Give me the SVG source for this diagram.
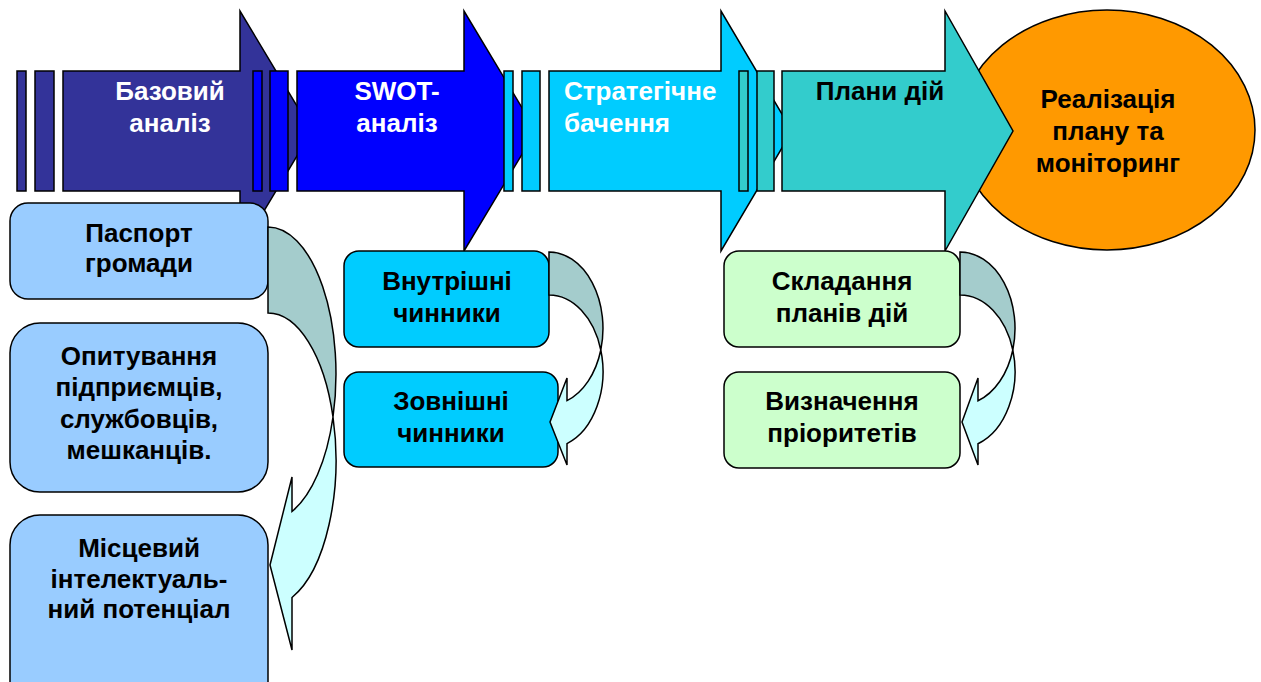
<svg xmlns="http://www.w3.org/2000/svg" width="1261" height="682" viewBox="0 0 1261 682">
<style>
  .s { stroke: #000; stroke-width: 1.5; stroke-linejoin: miter; }
  .t { font-family: "Liberation Sans", Arial, sans-serif; font-weight: bold; font-size: 26px; }
  .w { fill: #fff; }
  .k { fill: #000; }
  .c { text-anchor: middle; }
  .a1 { fill: #333399; }
  .a2 { fill: #0000FF; }
  .a3 { fill: #00CCFF; }
  .a4 { fill: #33CCCC; }
  .back { fill: #A4CCCC; }
  .front { fill: #CCFFFF; }
</style>
<rect width="1261" height="682" fill="#fff"/>

<g id="node-realizatsiia">
  <ellipse class="s" cx="1107" cy="130" rx="148" ry="120" fill="#FF9900"/>
  <text class="t k c" x="1108" y="108">Реалізація</text>
  <text class="t k c" x="1108" y="140">плану та</text>
  <text class="t k c" x="1108" y="172">моніторинг</text>
</g>

<g id="node-bazovyi">
  <rect class="s a1" x="17" y="71" width="9" height="120"/>
  <rect class="s a1" x="35" y="71" width="19" height="120"/>
  <polygon class="s a1" points="63,71 240,71 240,11 312,131 240,251 240,191 63,191"/>
  <text class="t w c" x="170" y="100">Базовий</text>
  <text class="t w c" x="170" y="132">аналіз</text>
</g>

<g id="node-swot">
  <rect class="s a2" x="253" y="71" width="9" height="120"/>
  <rect class="s a2" x="270" y="71" width="18" height="120"/>
  <polygon class="s a2" points="297,71 464,71 464,11 536,131 464,251 464,191 297,191"/>
  <text class="t w c" x="397" y="100">SWOT-</text>
  <text class="t w c" x="397" y="132">аналіз</text>
</g>

<g id="node-stratehichne">
  <rect class="s a3" x="504" y="71" width="9" height="120"/>
  <rect class="s a3" x="522" y="71" width="18" height="120"/>
  <polygon class="s a3" points="549,71 721,71 721,11 792,131 721,251 721,191 549,191"/>
  <text class="t w" x="564" y="100">Стратегічне</text>
  <text class="t w" x="564" y="132">бачення</text>
</g>

<g id="node-plany">
  <rect class="s a4" x="739" y="71" width="9" height="120"/>
  <rect class="s a4" x="757" y="71" width="17" height="120"/>
  <polygon class="s a4" points="782,71 945,71 945,11 1013,131 945,251 945,191 782,191"/>
  <text class="t k c" x="880" y="100">Плани дій</text>
</g>

<g id="node-pasport">
  <rect class="s" x="10" y="203" width="258" height="96" rx="18" fill="#99CCFF"/>
  <text class="t k c" x="139" y="242">Паспорт</text>
  <text class="t k c" x="139" y="272">громади</text>
</g>

<g id="node-opytuvannia">
  <rect class="s" x="10" y="323" width="258" height="169" rx="30" fill="#99CCFF"/>
  <text class="t k c" x="139" y="365">Опитування</text>
  <text class="t k c" x="139" y="396">підприємців,</text>
  <text class="t k c" x="139" y="428">службовців,</text>
  <text class="t k c" x="139" y="459">мешканців.</text>
</g>

<g id="node-mistsevyi">
  <rect class="s" x="10" y="515" width="258" height="200" rx="30" fill="#99CCFF"/>
  <text class="t k c" x="139" y="557">Місцевий</text>
  <text class="t k c" x="139" y="588">інтелектуаль-</text>
  <text class="t k c" x="139" y="618">ний потенціал</text>
</g>

<g id="node-vnutrishni">
  <rect class="s" x="344" y="251" width="205" height="96" rx="15" fill="#00CCFF"/>
  <text class="t k c" x="447" y="290">Внутрішні</text>
  <text class="t k c" x="447" y="322">чинники</text>
</g>

<g id="node-zovnishni">
  <rect class="s" x="344" y="372" width="214" height="95" rx="15" fill="#00CCFF"/>
  <text class="t k c" x="451" y="410">Зовнішні</text>
  <text class="t k c" x="451" y="442">чинники</text>
</g>

<g id="node-skladannia">
  <rect class="s" x="724" y="251" width="236" height="96" rx="15" fill="#CCFFCC"/>
  <text class="t k c" x="842" y="290">Складання</text>
  <text class="t k c" x="842" y="322">планів дій</text>
</g>

<g id="node-vyznachennia">
  <rect class="s" x="724" y="372" width="236" height="96" rx="15" fill="#CCFFCC"/>
  <text class="t k c" x="842" y="410">Визначення</text>
  <text class="t k c" x="842" y="442">пріоритетів</text>
</g>

<g id="connectors">
  <path class="s back" d="M268,227 A68,147 0 0 1 333,417 A68,147 0 0 0 268,313 Z"/>
  <path class="s front" d="M333,417 A68,147 0 0 1 292,597.5 L292,650 L270,565 L292,477 L292,511.5 A68,147 0 0 0 333,417 Z"/>

  <path class="s back" d="M549,252 A54,76.5 0 0 1 600.8,350 A54,76.5 0 0 0 549,295 Z"/>
  <path class="s front" d="M600.8,350 A54,76.5 0 0 1 567,443.6 L567,465 L550,422 L567,378 L567,400.6 A54,76.5 0 0 0 600.8,350 Z"/>

  <path class="s back" d="M960,252 A55,76.5 0 0 1 1012.8,350 A55,76.5 0 0 0 960,295 Z"/>
  <path class="s front" d="M1012.8,350 A55,76.5 0 0 1 978,443.8 L978,465 L962,422 L978,378 L978,400.8 A55,76.5 0 0 0 1012.8,350 Z"/>
</g>
</svg>
